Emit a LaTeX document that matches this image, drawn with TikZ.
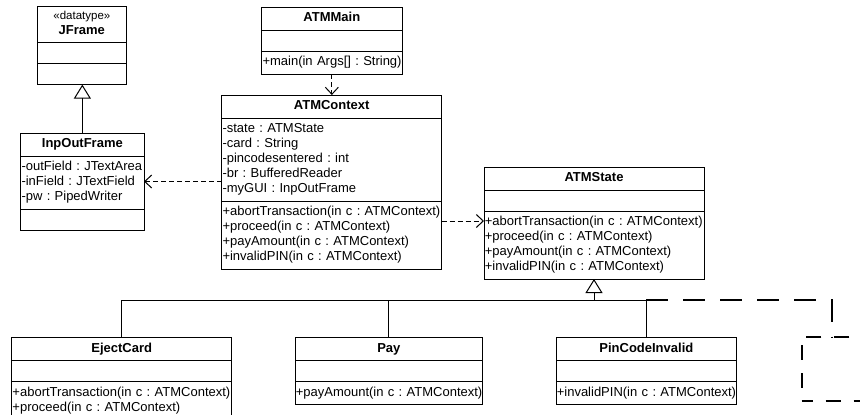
\documentclass[tikz,border=0pt]{standalone}
\usepackage{fontspec}
\setmainfont{Liberation Sans}
\usetikzlibrary{shapes.multipart,arrows.meta}
\frenchspacing

\tikzset{
  umlclass/.style={rectangle split, rectangle split parts=3, draw, line width=1pt,
    inner xsep=0.8pt, inner ysep=3.5pt, outer sep=0pt, anchor=north west,
    align=left, font=\fontsize{13}{15}\selectfont},
  dep/.style={line width=1pt, dash pattern=on 5pt off 3pt,
    -{Straight Barb[length=7pt,width=13pt]}},
  inherit/.style={line width=1pt, -{Triangle[open,length=14pt,width=17pt]}},
  gen/.style={line width=1pt},
  sketchy/.style={line width=2pt, dash pattern=on 22pt off 15pt},
  sketchybox/.style={draw, line width=2pt, dash pattern=on 15pt off 13pt, dash phase=4pt}
}
% class name, centred over the whole compartment
\newcommand{\classname}[1]{\makebox[\linewidth]{\strut\textbf{#1}}}
% one attribute or operation per line, never broken
\newcommand{\member}[1]{\mbox{\strut#1}}
% empty compartment
\newcommand{\nofield}{\rule{0pt}{13pt}}

\begin{document}
\begin{tikzpicture}[x=1pt,y=-1pt]
\useasboundingbox (0,0) rectangle (860,415);

\node[umlclass,text width=86.7pt] (jframe) at (37.7,6)
  {\makebox[\linewidth]{\fontsize{11.5}{13}\selectfont\strut«datatype»}\\\classname{JFrame}
   \nodepart{second}\nofield
   \nodepart{third}\nofield};

\node[umlclass,text width=121.7pt] (inout) at (20.7,133)
  {\classname{InpOutFrame}
   \nodepart{second}\member{-outField : JTextArea}\\
   \member{-inField : JTextField}\\
   \member{-pw : PipedWriter}
   \nodepart{third}\nofield};

\node[umlclass,text width=138.7pt] (atmmain) at (261.7,7.3)
  {\classname{ATMMain}
   \nodepart{second}\nofield
   \nodepart{third}\member{+main(in Args[] : String)}};

\node[umlclass,text width=218.4pt] (context) at (221.7,95)
  {\classname{ATMContext}
   \nodepart{second}\member{-state : ATMState}\\
   \member{-card : String}\\
   \member{-pincodesentered : int}\\
   \member{-br : BufferedReader}\\
   \member{-myGUI : InpOutFrame}
   \nodepart{third}\member{+abortTransaction(in c : ATMContext)}\\
   \member{+proceed(in c : ATMContext)}\\
   \member{+payAmount(in c : ATMContext)}\\
   \member{+invalidPIN(in c : ATMContext)}};

\node[umlclass,text width=218.4pt] (state) at (484,167)
  {\classname{ATMState}
   \nodepart{second}\nofield
   \nodepart{third}\member{+abortTransaction(in c : ATMContext)}\\
   \member{+proceed(in c : ATMContext)}\\
   \member{+payAmount(in c : ATMContext)}\\
   \member{+invalidPIN(in c : ATMContext)}};

\node[umlclass,text width=218.4pt] (eject) at (11.7,337.5)
  {\classname{EjectCard}
   \nodepart{second}\nofield
   \nodepart{third}\member{+abortTransaction(in c : ATMContext)}\\
   \member{+proceed(in c : ATMContext)}};

\node[umlclass,text width=186.1pt] (pay) at (295,337.5)
  {\classname{Pay}
   \nodepart{second}\nofield
   \nodepart{third}\member{+payAmount(in c : ATMContext)}};

\node[umlclass,text width=179.1pt] (pininv) at (556,337.5)
  {\classname{PinCodeInvalid}
   \nodepart{second}\nofield
   \nodepart{third}\member{+invalidPIN(in c : ATMContext)}};

\node[sketchybox, anchor=north west, minimum width=60pt, minimum height=63.7pt,
  inner sep=0pt, outer sep=0pt] (extra) at (801.7,337) {};

% dependencies
\draw[dep] (inout.east -| context.west) -- (inout.east);
\draw[dep] (atmmain.south) -- (atmmain.south |- context.north);
\path (state.two split west) ++(0,10) coordinate (statein);
\draw[dep] (statein -| context.east) -- (statein);

% generalizations
\draw[inherit] (inout.north) -- (inout.north |- jframe.south);
\path (state.south) ++(0,21) coordinate (fork);
\draw[gen] (eject.north) |- (pininv.north |- fork) -- (pininv.north);
\draw[gen] (pay.north) -- (pay.north |- fork);
\draw[inherit] (fork) -- (state.south);
\draw[sketchy] (pininv.north |- fork) -| (extra.north);
\end{tikzpicture}
\end{document}
